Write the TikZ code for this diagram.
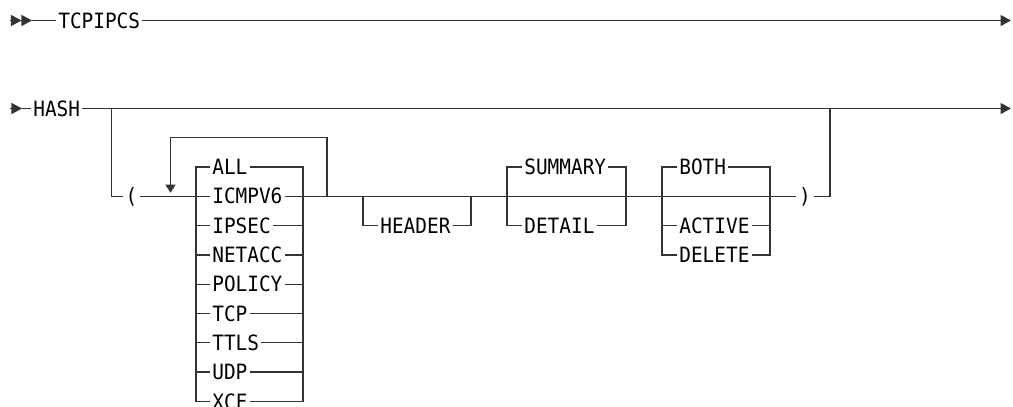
\documentclass[tikz,border=0pt]{standalone}
\usepackage{fontspec}
\newfontfamily\railfont[FakeStretch=0.92]{DejaVu Sans Mono}
\usetikzlibrary{arrows.meta,positioning}
\definecolor{railGray}{HTML}{333333}

\begin{document}
\begin{tikzpicture}[
            node distance=0.586cm,
            word/.style={
                    inner xsep=0.04cm,
                    inner ysep=0pt,
                    text height=8.7pt,
                    text depth=0pt,
                    anchor=west,
                    font=\railfont\fontsize{12}{14}\selectfont
                },
            paren/.style={
                    word,
                    anchor=center,
                    inner xsep=0.05cm
                },
            rail/.style={
                    draw=railGray,
                    line width=0.7pt
                },
            railtip/.style={
                    rail,
                    -{Triangle[length=0.21cm,width=0.22cm]}
                },
            starttip/.style={
                    rail,
                    -{Triangle[length=0.21cm,width=0.22cm]Triangle[length=0.21cm,width=0.22cm]}
                },
            looptip/.style={
                    rail,
                    -{Triangle[length=0.16cm,width=0.2cm]}
                }
        ]
        \useasboundingbox (0,0) rectangle (20.26,-8.14);

        % Command
        \coordinate (begin1) at (0.2,-0.41);
        \coordinate (tip1) at (0.64,-0.41);
        \node[word] (tcpipcs) at (1.12,-0.41) {TCPIPCS};
        \coordinate (end1) at (20.22,-0.41);

        % Subcommand
        \coordinate (begin2) at (0.2,-2.17);
        \coordinate (tip2) at (0.44,-2.17);
        \node[word] (hash) at (0.62,-2.17) {HASH};
        \coordinate (end2) at (20.22,-2.17);
        \coordinate (split) at (2.23,-2.17);
        \coordinate (join) at (16.6,-2.17);

        % Parentheses
        \node[paren] (lparen) at (2.63,-3.926) {(};
        \node[paren] (rparen) at (16.1,-3.926) {)};

        % Record types
        \node[word] (all) at (4.2,-3.34) {ALL};
        \node[word, below=of all.west, anchor=west] (icmp) {ICMPV6};
        \node[word, below=of icmp.west, anchor=west] (ipsec) {IPSEC};
        \node[word, below=of ipsec.west, anchor=west] (netacc) {NETACC};
        \node[word, below=of netacc.west, anchor=west] (policy) {POLICY};
        \node[word, below=of policy.west, anchor=west] (tcp) {TCP};
        \node[word, below=of tcp.west, anchor=west] (ttls) {TTLS};
        \node[word, below=of ttls.west, anchor=west] (udp) {UDP};
        \node[word, below=of udp.west, anchor=west] (xcf) {XCF};
        \coordinate (typesL) at (3.92,-3.926);
        \coordinate (typesR) at (6.06,-3.926);

        % Repeat
        \coordinate (loopR) at (6.54,-3.926);
        \coordinate (loopTop) at (3.41,-2.756);
        \coordinate (loopTip) at (3.41,-3.854);

        % Header
        \node[word] (header) at (7.56,-4.512) {HEADER};
        \coordinate (headerL) at (7.26,-3.926);
        \coordinate (headerR) at (9.42,-3.926);

        % Level of detail
        \node[word] (summary) at (10.44,-3.34) {SUMMARY};
        \node[word, below=1.172cm of summary.west, anchor=west] (detail) {DETAIL};
        \coordinate (levelL) at (10.14,-3.926);
        \coordinate (levelR) at (12.52,-3.926);

        % Scope
        \node[word] (both) at (13.54,-3.34) {BOTH};
        \node[word, below=1.172cm of both.west, anchor=west] (active) {ACTIVE};
        \node[word, below=of active.west, anchor=west] (delete) {DELETE};
        \coordinate (scopeL) at (13.24,-3.926);
        \coordinate (scopeR) at (15.4,-3.926);

        % Main lines
        \draw[starttip] (begin1) -- (tip1);
        \draw[rail] (tip1) -- (tcpipcs.west);
        \draw[railtip] (tcpipcs.east) -- (end1);

        \draw[starttip, -{Triangle[length=0.21cm,width=0.22cm]}] (begin2) -- (tip2);
        \draw[rail] (tip2) -- (hash.west);
        \draw[railtip] (hash.east) -- (end2);

        \draw[rail] (split) |- (lparen.west);
        \draw[rail] (lparen.east) -- (icmp.west);
        \draw[rail] (icmp.east) -- (rparen.west);
        \draw[rail] (rparen.east) -| (join);

        % Record type choices
        \draw[rail] (all.west) -| (typesL);
        \draw[rail] (xcf.west) -| (typesL);
        \draw[rail] (ipsec.west) -- (ipsec.west -| typesL);
        \draw[rail] (netacc.west) -- (netacc.west -| typesL);
        \draw[rail] (policy.west) -- (policy.west -| typesL);
        \draw[rail] (tcp.west) -- (tcp.west -| typesL);
        \draw[rail] (ttls.west) -- (ttls.west -| typesL);
        \draw[rail] (udp.west) -- (udp.west -| typesL);

        \draw[rail] (all.east) -| (typesR);
        \draw[rail] (xcf.east) -| (typesR);
        \draw[rail] (ipsec.east) -- (ipsec.east -| typesR);
        \draw[rail] (netacc.east) -- (netacc.east -| typesR);
        \draw[rail] (policy.east) -- (policy.east -| typesR);
        \draw[rail] (tcp.east) -- (tcp.east -| typesR);
        \draw[rail] (ttls.east) -- (ttls.east -| typesR);
        \draw[rail] (udp.east) -- (udp.east -| typesR);

        \draw[looptip] (loopR) |- (loopTop) -- (loopTip);

        % Optional header
        \draw[rail] (headerL) |- (header.west);
        \draw[rail] (header.east) -| (headerR);

        % Summary or detail
        \draw[rail] (summary.west) -| (levelL);
        \draw[rail] (detail.west) -| (levelL);
        \draw[rail] (summary.east) -| (levelR);
        \draw[rail] (detail.east) -| (levelR);

        % Both, active or delete
        \draw[rail] (both.west) -| (scopeL);
        \draw[rail] (delete.west) -| (scopeL);
        \draw[rail] (active.west) -- (active.west -| scopeL);
        \draw[rail] (both.east) -| (scopeR);
        \draw[rail] (delete.east) -| (scopeR);
        \draw[rail] (active.east) -- (active.east -| scopeR);

    \end{tikzpicture}
\end{document}
